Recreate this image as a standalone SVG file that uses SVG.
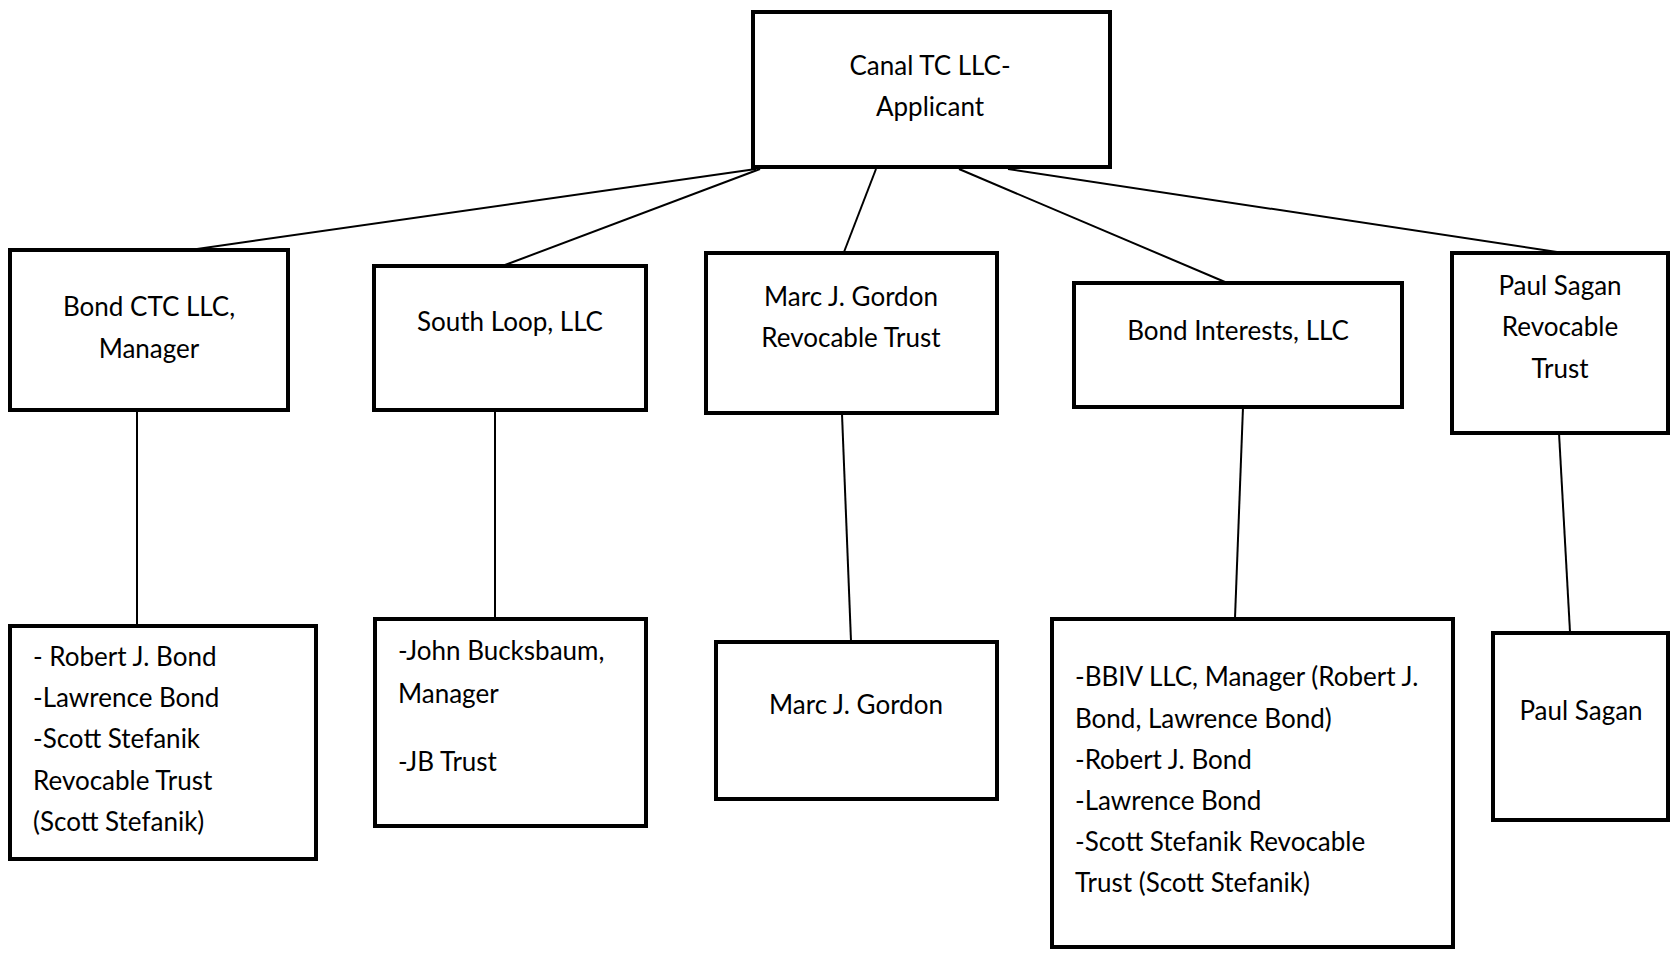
<svg xmlns="http://www.w3.org/2000/svg" width="1677" height="955" viewBox="0 0 1677 955">
<style>
.box{fill:#fff;stroke:#000;stroke-width:4}
.c{stroke:#000;stroke-width:2;fill:none}
text{font-family:Lato,"Open Sans","Liberation Sans",sans-serif;font-size:26px;fill:#000}
.m{text-anchor:middle}
</style>
<rect width="1677" height="955" fill="#fff"/>
<g id="connectors">
<line class="c" x1="756" y1="169" x2="197" y2="249"/>
<line class="c" x1="760" y1="169" x2="505" y2="265"/>
<line class="c" x1="876" y1="169" x2="844" y2="252"/>
<line class="c" x1="959" y1="169" x2="1225" y2="282"/>
<line class="c" x1="1008" y1="169" x2="1557" y2="252"/>
<line class="c" x1="137" y1="411" x2="137" y2="625"/>
<line class="c" x1="495" y1="411" x2="495" y2="618"/>
<line class="c" x1="842" y1="414" x2="851" y2="641"/>
<line class="c" x1="1243" y1="407" x2="1235" y2="618"/>
<line class="c" x1="1559" y1="433" x2="1570" y2="632"/>
</g>
<g id="canal">
<rect class="box" x="753" y="12" width="357" height="155"/>
<text class="m" x="930" y="75">Canal TC LLC-</text>
<text class="m" x="930" y="116">Applicant</text>
</g>
<g id="bondctc">
<rect class="box" x="10" y="250" width="278" height="160"/>
<text class="m" x="149" y="316">Bond CTC LLC,</text>
<text class="m" x="149" y="358">Manager</text>
</g>
<g id="southloop">
<rect class="box" x="374" y="266" width="272" height="144"/>
<text class="m" x="510" y="331">South Loop, LLC</text>
</g>
<g id="gordontrust">
<rect class="box" x="706" y="253" width="291" height="160"/>
<text class="m" x="851" y="306">Marc J. Gordon</text>
<text class="m" x="851" y="347">Revocable Trust</text>
</g>
<g id="bondinterests">
<rect class="box" x="1074" y="283" width="328" height="124"/>
<text class="m" x="1238" y="340">Bond Interests, LLC</text>
</g>
<g id="sagantrust">
<rect class="box" x="1452" y="253" width="216" height="180"/>
<text class="m" x="1560" y="295">Paul Sagan</text>
<text class="m" x="1560" y="336">Revocable</text>
<text class="m" x="1560" y="378">Trust</text>
</g>
<g id="bondlist">
<rect class="box" x="10" y="626" width="306" height="233"/>
<text x="33" y="666">- Robert J. Bond</text>
<text x="33" y="707">-Lawrence Bond</text>
<text x="33" y="748">-Scott Stefanik</text>
<text x="33" y="790">Revocable Trust</text>
<text x="33" y="831">(Scott Stefanik)</text>
</g>
<g id="bucksbaum">
<rect class="box" x="375" y="619" width="271" height="207"/>
<text x="398" y="660">-John Bucksbaum,</text>
<text x="398" y="703">Manager</text>
<text x="398" y="771">-JB Trust</text>
</g>
<g id="gordon">
<rect class="box" x="716" y="642" width="281" height="157"/>
<text class="m" x="856" y="714">Marc J. Gordon</text>
</g>
<g id="bbiv">
<rect class="box" x="1052" y="619" width="401" height="328"/>
<text x="1075" y="686">-BBIV LLC, Manager (Robert J.</text>
<text x="1075" y="728">Bond, Lawrence Bond)</text>
<text x="1075" y="769">-Robert J. Bond</text>
<text x="1075" y="810">-Lawrence Bond</text>
<text x="1075" y="851">-Scott Stefanik Revocable</text>
<text x="1075" y="892">Trust (Scott Stefanik)</text>
</g>
<g id="sagan">
<rect class="box" x="1493" y="633" width="175" height="187"/>
<text class="m" x="1581" y="720">Paul Sagan</text>
</g>
</svg>
